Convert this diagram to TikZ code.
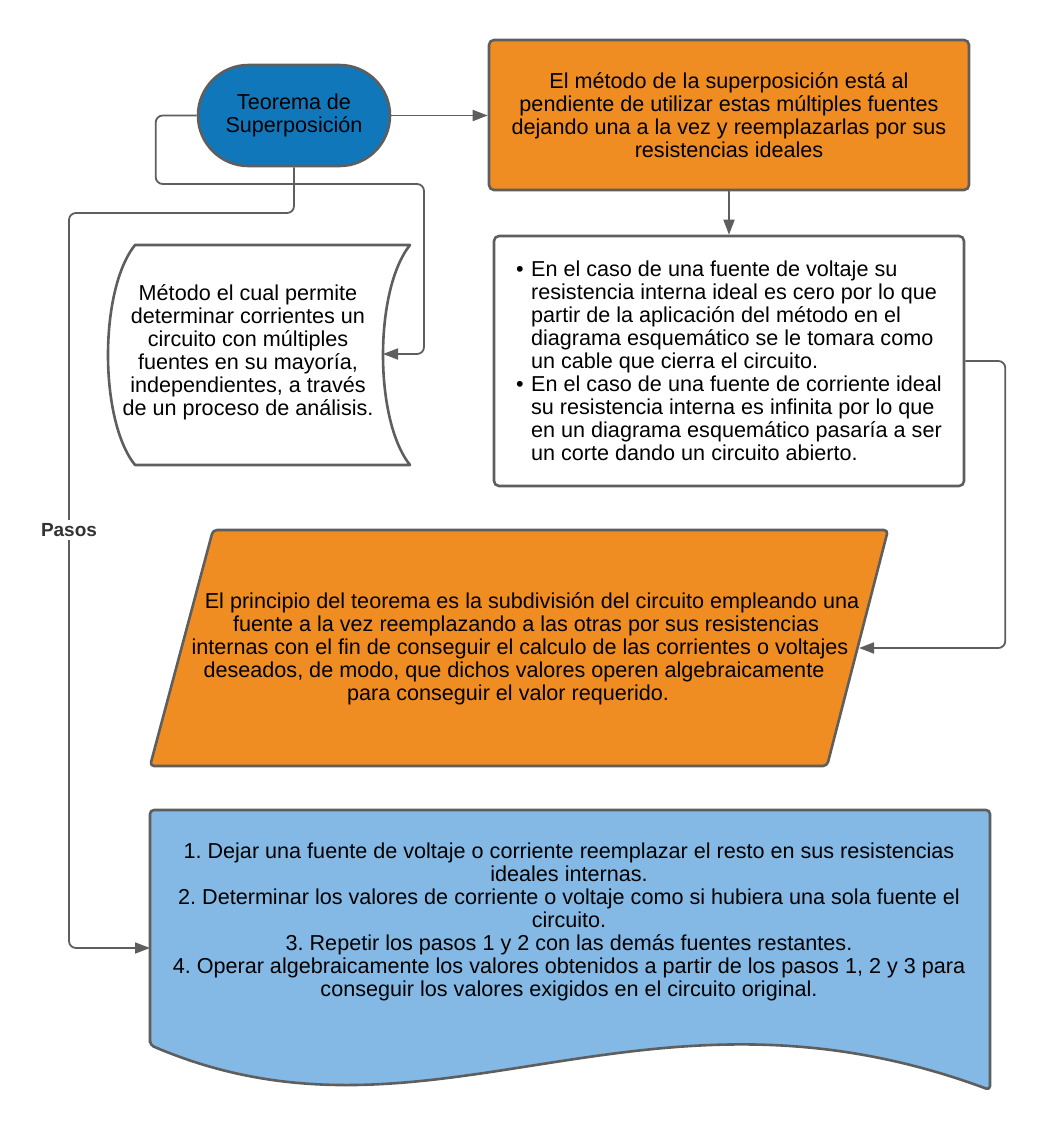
\documentclass[tikz,border=0pt]{standalone}
\usepackage{fontspec}
\setmainfont{Liberation Sans}
\usetikzlibrary{arrows.meta,shapes.misc}
\definecolor{lineGray}{RGB}{94,94,94}
\definecolor{termBlue}{RGB}{16,120,186}
\definecolor{boxOrange}{RGB}{239,141,34}
\definecolor{docBlue}{RGB}{131,185,228}
\frenchspacing
\begin{document}
\begin{tikzpicture}[x=1pt,y=1pt,yscale=-1,xscale=1,
  shapeline/.style={draw=lineGray,line width=2.6pt,line join=round},
  txt/.style={font=\fontsize{21.6}{23}\selectfont,align=center,inner sep=0pt},
  conn/.style={draw=lineGray,line width=1.8pt,rounded corners=7pt,-{Triangle[length=15pt,width=11pt]}}]
\useasboundingbox (0,0) rectangle (1046,1130);

%Shape: Terminator [teorema]
\node[shapeline,fill=termBlue,rounded rectangle,minimum width=192pt,minimum height=101pt,txt] (teorema) at (294,115.5) {Teorema de\\Superposición};
%Shape: Rectangle [metodo]
\node[shapeline,fill=boxOrange,rounded corners=5pt,minimum width=480pt,minimum height=150pt,txt] (metodo) at (729,115) {El método de la superposición está al\\pendiente de utilizar estas múltiples fuentes\\dejando una a la vez y reemplazarlas por sus\\resistencias ideales};
%Shape: Rectangle [casos]
\node[shapeline,fill=white,rounded corners=5pt,minimum width=470pt,minimum height=250pt,txt,align=left] (casos) at (729,361) {%
\makebox[15pt][l]{•}En el caso de una fuente de voltaje su\\
\hspace*{15pt}resistencia interna ideal es cero por lo que\\
\hspace*{15pt}partir de la aplicación del método en el\\
\hspace*{15pt}diagrama esquemático se le tomara como\\
\hspace*{15pt}un cable que cierra el circuito.\\
\makebox[15pt][l]{•}En el caso de una fuente de corriente ideal\\
\hspace*{15pt}su resistencia interna es infinita por lo que\\
\hspace*{15pt}en un diagrama esquemático pasaría a ser\\
\hspace*{15pt}un corte dando un circuito abierto.};

%Shape: Stored Data [descr]
\draw[shapeline,fill=white] (135,245) -- (410,245) .. controls (374,290) and (374,420) .. (410,465) -- (135,465) .. controls (99,420) and (99,290) .. (135,245) -- cycle;
\node[txt] (descr) at (248,352) {Método el cual permite\\determinar corrientes un\\circuito con múltiples\\fuentes en su mayoría,\\independientes, a través\\de un proceso de análisis.};
\coordinate (descr-in) at (383,354);

%Shape: Parallelogram [principio]
\draw[shapeline,fill=boxOrange,rounded corners=4pt] (213,530) -- (888,530) -- (827,766) -- (150,766) -- cycle;
\node[txt] (principio) at (520,649) {\kern24pt El principio del teorema es la subdivisión del circuito empleando una\\\kern12pt fuente a la vez reemplazando a las otras por sus resistencias\\internas con el fin de conseguir el calculo de las corrientes o voltajes\\deseados, de modo, que dichos valores operen algebraicamente\kern12pt\\para conseguir el valor requerido.\kern24pt};
\coordinate (principio-in) at (859,648);

%Shape: Document [pasos]
\draw[shapeline,fill=docBlue,rounded corners=4pt] (150,1045) -- (150,810) -- (990,810) -- (990,1090) .. controls (640,960) and (430,1165) .. (150,1045) -- cycle;
\node[txt] (pasos) at (569,922) {1. Dejar una fuente de voltaje o corriente reemplazar el resto en sus resistencias\\ideales internas.\\2. Determinar los valores de corriente o voltaje como si hubiera una sola fuente el\\circuito.\\3. Repetir los pasos 1 y 2 con las demás fuentes restantes.\\4. Operar algebraicamente los valores obtenidos a partir de los pasos 1, 2 y 3 para\\conseguir los valores exigidos en el circuito original.};
\coordinate (pasos-in) at (150,948);

%Connectors
\draw[conn] (teorema.east) -- (teorema.east -| metodo.west);
\draw[conn] (metodo.south) -- (casos.north);
\draw[conn] (casos.east) -- ++(40,0) |- (principio-in);
\draw[conn] (teorema.west) -- ++(-41,0) |- (424,184) |- (descr-in);
\draw[conn] (teorema.south) |- (69,213) |- (pasos-in);
\node[fill=white,inner sep=3pt,text=black!80,font=\fontsize{19}{22}\selectfont\bfseries] (pasosLabel) at (69,530) {Pasos};

\end{tikzpicture}
\end{document}
